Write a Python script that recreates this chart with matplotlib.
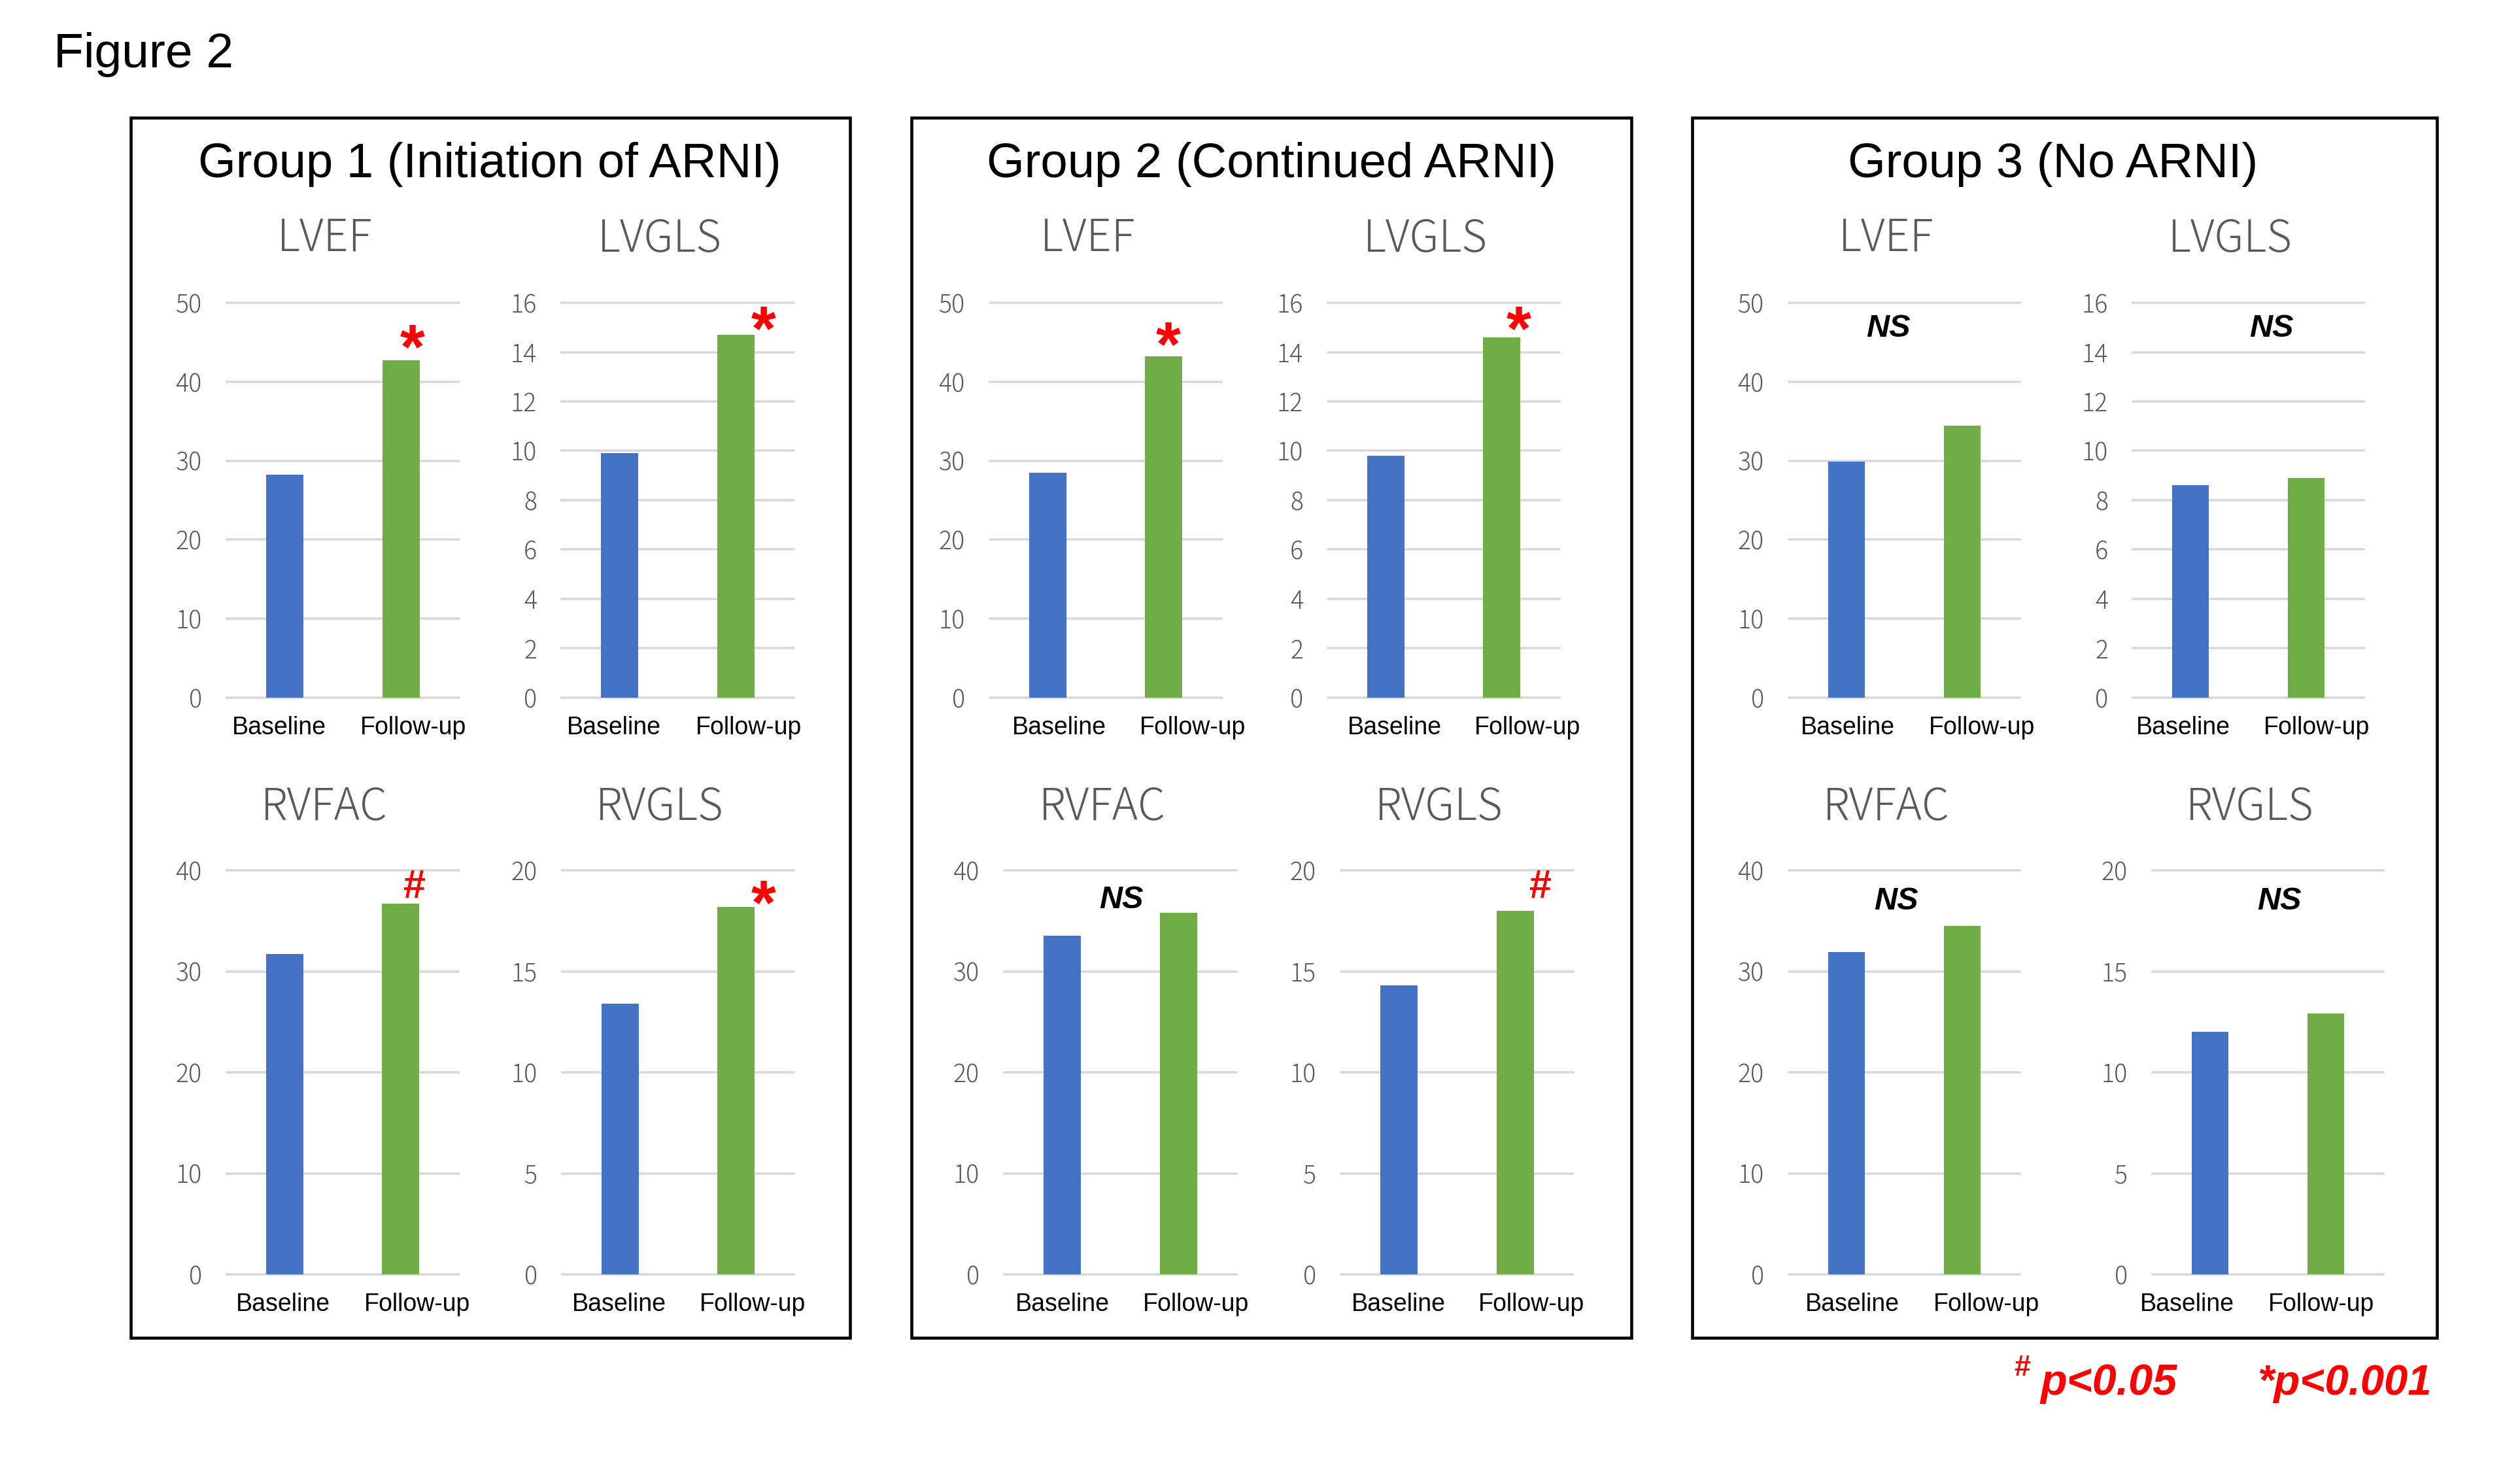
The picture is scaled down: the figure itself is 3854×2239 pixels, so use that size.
import matplotlib
matplotlib.use("Agg")
import matplotlib.pyplot as plt
from matplotlib.patches import Rectangle

W, H = 3855, 2239

categories = ["Baseline", "Follow-up"]
groups = ["Group 1 (Initiation of ARNI)", "Group 2 (Continued ARNI)", "Group 3 (No ARNI)"]
metrics = ["LVEF", "LVGLS", "RVFAC", "RVGLS"]
y_max = [50, 16, 40, 20]
y_step = [10, 2, 10, 5]

# values in metric order: LVEF, LVGLS, RVFAC, RVGLS
group1_baseline = [28.2, 9.9, 31.7, 13.4]
group1_followup = [42.7, 14.7, 36.7, 18.2]
group2_baseline = [28.5, 9.8, 33.5, 14.3]
group2_followup = [43.2, 14.6, 35.8, 18.0]
group3_baseline = [29.9, 8.6, 31.9, 12.0]
group3_followup = [34.4, 8.9, 34.5, 12.9]

group1_marks = ["*", "*", "#", "*"]
group2_marks = ["*", "*", "NS", "#"]
group3_marks = ["NS", "NS", "NS", "NS"]

baselines = [group1_baseline, group2_baseline, group3_baseline]
followups = [group1_followup, group2_followup, group3_followup]
marks = [group1_marks, group2_marks, group3_marks]

# ---- layout (pixels of the 3855x2239 canvas) ----
axes_x = [
    [(347, 702), (859, 1214), (347, 701), (860, 1214)],
    [(1514, 1868), (2031, 2385), (1536, 1891), (2051, 2406)],
    [(2736, 3089), (3262, 3615), (2736, 3089), (3292, 3645)],
]
rows_y = [(463, 1067), (463, 1067), (1331, 1949), (1331, 1949)]
boxes = [(200, 180, 1300, 2046), (1394, 180, 2495, 2046), (2588, 180, 3727, 2046)]
group_title_x = [749, 1945, 3140]
# category label shifts (px) off the bar centre, as pasted in the original
label_shift = [
    [(-9, 19), (-9, 20), (-3, 26), (-2, 26)],
    [(17, 45), (13, 40), (0, 27), (-1, 25)],
    [(2, 30), (-11, 16), (9, 37), (-35, -7)],
]
# marker glyph centres in data coords
mark_pos = [
    [(1.10, 46.1), (1.24, 15.5), (1.12, 38.6), (1.24, 19.06)],
    [(1.04, 46.4), (1.15, 15.5), (0.51, 37.3), (1.22, 19.3)],
    [(0.36, 47.1), (0.70, 15.07), (0.43, 37.2), (0.60, 18.6)],
]

BLUE = "#4472C4"
GREEN = "#70AD47"
GRID = "#D9D9D9"
GRAY = "#595959"
RED = "#FF0000"
LIGHT_FONT = ["Noto Sans CJK JP", "DejaVu Sans"]
ARIAL = ["Liberation Sans", "DejaVu Sans"]
PT = 0.72  # points per pixel at dpi 100


def fx(px):
    return px / W


def fy(py):
    return 1 - py / H


fig = plt.figure(figsize=(W / 100, H / 100), dpi=100)

fig.text(fx(82), fy(84), "Figure 2", fontsize=54, family=ARIAL, ha="left", va="center")

for g in range(3):
    x0, y0, x1, y1 = boxes[g]
    fig.patches.append(Rectangle((fx(x0), fy(y1)), fx(x1 - x0), (y1 - y0) / H,
                                 transform=fig.transFigure, fill=False,
                                 edgecolor="black", linewidth=3.3))
    fig.text(fx(group_title_x[g]), fy(251), groups[g], fontsize=53.5, family=ARIAL,
             ha="center", va="center")

    for m in range(4):
        left, right = axes_x[g][m]
        top, bottom = rows_y[m]
        ax = fig.add_axes([fx(left), fy(bottom), fx(right - left), (bottom - top) / H])
        vals = [baselines[g][m], followups[g][m]]
        ax.bar([0, 1], vals, width=0.32, color=[BLUE, GREEN], zorder=3)
        ax.set_xlim(-0.5, 1.5)
        ax.set_ylim(0, y_max[m])
        ax.set_yticks(range(0, y_max[m] + 1, y_step[m]))
        ax.set_xticks([])
        for lab in ax.get_yticklabels():
            lab.set_fontsize(27)
            lab.set_family(LIGHT_FONT)
            lab.set_fontweight("light")
            lab.set_color(GRAY)
        ax.tick_params(axis="y", length=0, pad=38 * PT)
        for s in ax.spines.values():
            s.set_visible(False)
        ax.grid(axis="y", color=GRID, linewidth=2.6)
        ax.set_axisbelow(True)
        for line in ax.get_ygridlines():
            line.set_clip_on(False)
        ax.patch.set_alpha(0)

        # category labels
        for i, cat in enumerate(categories):
            ax.annotate(cat, xy=(i, 0), xycoords=("data", "axes fraction"),
                        xytext=(label_shift[g][m][i] * PT, -46 * PT),
                        textcoords="offset points", fontsize=27, family=ARIAL,
                        ha="center", va="center", annotation_clip=False)

        # chart title, a little left of the plot centre
        title_y = 366 if m < 2 else 1235
        fig.text(fx((left + right) / 2 - 28), fy(title_y), metrics[m], fontsize=48,
                 family=LIGHT_FONT, fontweight="light", color=GRAY,
                 ha="center", va="center")

        mk = marks[g][m]
        mx, my = mark_pos[g][m]
        if mk == "NS":
            ax.annotate("NS", xy=(mx, my), xytext=(0, -12), textcoords="offset points",
                        fontsize=35, fontweight="bold", fontstyle="italic", family=ARIAL,
                        ha="center", va="baseline", annotation_clip=False)
        elif mk == "#":
            ax.annotate("#", xy=(mx, my), xytext=(0, -15), textcoords="offset points",
                        fontsize=44, fontweight="bold", color=RED, family=ARIAL,
                        ha="center", va="baseline", annotation_clip=False)
        else:
            ax.annotate("*", xy=(mx, my), xytext=(0, -38), textcoords="offset points",
                        fontsize=70, fontweight="bold", color=RED, family=ARIAL,
                        ha="center", va="baseline", annotation_clip=False)

# significance legend
fig.text(fx(3080), fy(2104), "#", fontsize=32, fontweight="bold", color=RED,
         family=ARIAL, ha="left", va="baseline")
fig.text(fx(3120), fy(2133), "p<0.05", fontsize=48, fontweight="bold",
         fontstyle="italic", color=RED, family=ARIAL, ha="left", va="baseline")
fig.text(fx(3452), fy(2133), "*p<0.001", fontsize=47, fontweight="bold",
         fontstyle="italic", color=RED, family=ARIAL, ha="left", va="baseline")

fig.savefig("out.png", dpi=100, facecolor="white")
